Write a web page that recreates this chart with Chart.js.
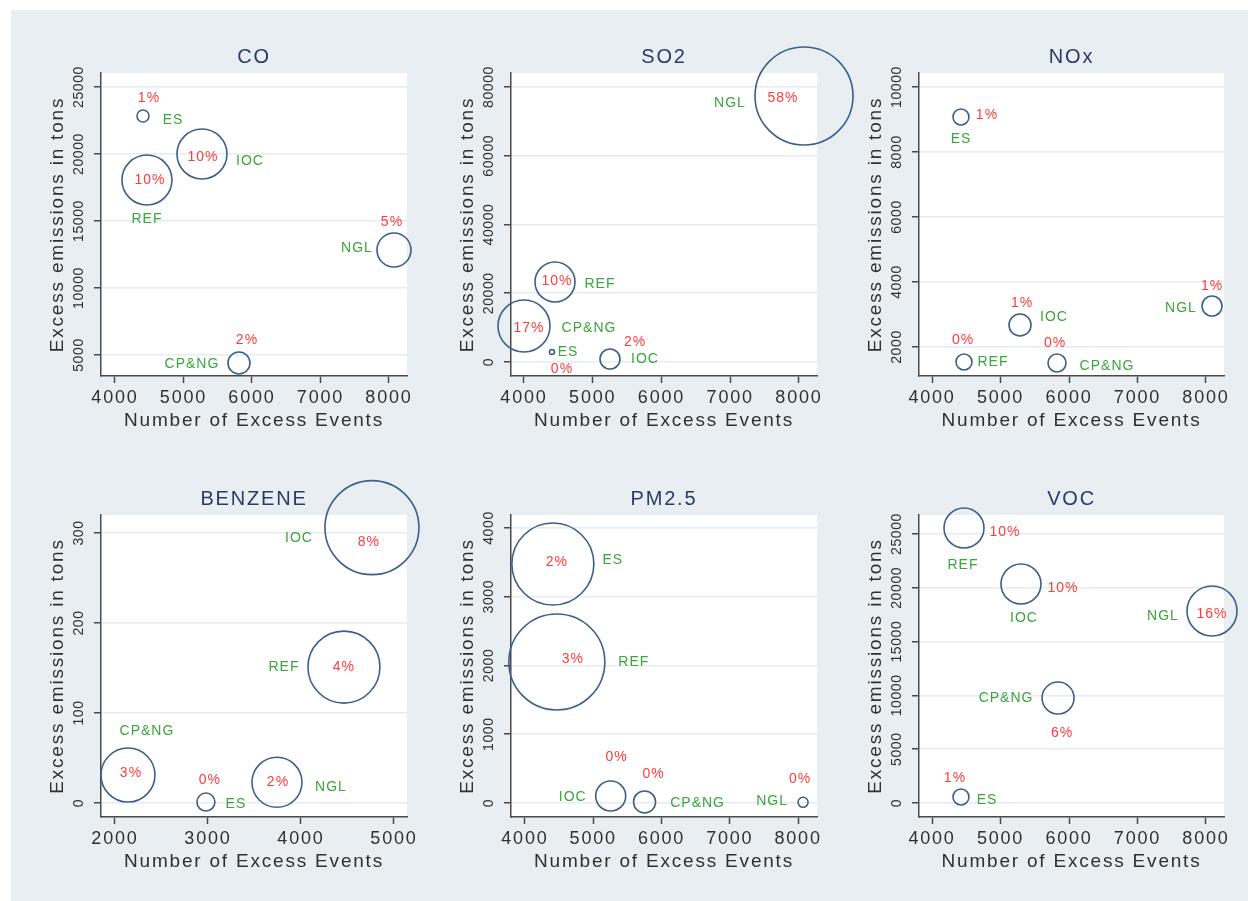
<!DOCTYPE html>
<html>
<head>
<meta charset="utf-8">
<script src="https://cdn.jsdelivr.net/npm/chart.js@4.4.1/dist/chart.umd.min.js"></script>
<style>
  body { margin: 0; background: #fff; }
  #page { position: relative; width: 1248px; height: 901px; overflow: hidden; background: #fff; }
  #bg { position: absolute; left: 11px; top: 10px; right: 0; bottom: 0; background: #e8eef1; }
  canvas { position: absolute; }
</style>
</head>
<body>
<div id="page"><div id="bg"></div></div>
<script>
// facilities, same order in every panel
const facilities = ["REF", "IOC", "CP&NG", "NGL", "ES"];

// number of excess events / excess emissions (tons) / share of total (%) / bubble weight
const coEvents = [4467, 5270, 5810, 8073, 4409];
const coTons = [18060, 20000, 4403, 12835, 22836];
const coShare = [10, 10, 2, 5, 1];
const coBubble = [25, 25, 11, 17, 6];

const so2Events = [4451, 5251, 4000, 8073, 4407];
const so2Tons = [23273, 875, 10473, 77382, 2909];
const so2Share = [10, 2, 17, 58, 0];
const so2Bubble = [20, 10, 26, 49, 2.5];

const noxEvents = [4467, 5285, 5825, 8088, 4423];
const noxTons = [1538, 2677, 1508, 3262, 9077];
const noxShare = [0, 1, 0, 1, 1];
const noxBubble = [8, 11, 9, 10, 8];

const benzeneEvents = [4462, 4763, 2140, 3742, 2978];
const benzeneTons = [151, 306, 31, 23, 1];
const benzeneShare = [4, 8, 3, 2, 0];
const benzeneBubble = [36, 47, 27, 25, 9];

const pmEvents = [4467, 5256, 5752, 8073, 4409];
const pmTons = [2051, 102, 15, 10, 3476];
const pmShare = [3, 0, 0, 0, 2];
const pmBubble = [48, 15, 11, 5, 41];

const vocEvents = [4467, 5299, 5840, 8088, 4423];
const vocTons = [25558, 20353, 9758, 17844, 558];
const vocShare = [10, 10, 6, 16, 1];
const vocBubble = [20, 20, 16, 25, 8];

// tick labels
const eventTicks = [4000, 5000, 6000, 7000, 8000];
const benzeneEventTicks = [2000, 3000, 4000, 5000];
const coTicks = [5000, 10000, 15000, 20000, 25000];
const so2Ticks = [0, 20000, 40000, 60000, 80000];
const noxTicks = [2000, 4000, 6000, 8000, 10000];
const benzeneTicks = [0, 100, 200, 300];
const pmTicks = [0, 1000, 2000, 3000, 4000];
const vocTicks = [0, 5000, 10000, 15000, 20000, 25000];

// label placement (pixel offsets from bubble centre), percent label then name label
const coPctPos = [[3, 0], [1, 3], [8, -23], [-2, -28], [6, -18]];
const coNamePos = [[0, 39], [48, 7], [-47, 1], [-37, -2], [30, 4]];
const so2PctPos = [[2, -1], [25, -17], [5, 2], [-21, 2], [10, 17]];
const so2NamePos = [[45, 2], [35, 0], [65, 2], [-74, 7], [16, 0]];
const noxPctPos = [[-1, -22], [2, -22], [-2, -20], [0, -20], [26, -2]];
const noxNamePos = [[29, 0], [34, -8], [50, 3], [-31, 2], [0, 22]];
const benzenePctPos = [[0, 0], [-3, 15], [3, -2], [1, 0], [4, -22]];
const benzeneNamePos = [[-60, 0], [-73, 11], [19, -44], [54, 5], [30, 2]];
const pmPctPos = [[16, -3], [6, -39], [9, -28], [-3, -23], [4, -2]];
const pmNamePos = [[77, 0], [-38, 1], [53, 1], [-31, -1], [60, -4]];
const vocPctPos = [[41, 4], [42, 4], [4, 35], [0, 3], [-6, -19]];
const vocNamePos = [[-1, 37], [3, 34], [-52, 0], [-49, 5], [26, 3]];

const FONT = "'Liberation Sans', Arial, Helvetica, sans-serif";
const NAVY = "#2c3a66";
const INK = "#303030";
const AXIS = "#4a4a4a";
const RED = "#ff3b3b";
const GREEN = "#3aa63a";
const CIRCLE = "#3e5f8c";

// plot-area rectangles on the page
const plotLeft = [101, 511, 919];
const plotRight = [407, 817, 1224];
const plotTop = [73, 515];
const plotBottom = [376, 817];
const AXIS_W = 90, TITLE_H = 60, XAXIS_H = 65, PAD_R = 42;

const panels = [
  { title: "CO", x: coEvents, y: coTons, share: coShare, size: coBubble, xTicks: eventTicks, yTicks: coTicks,
    xRange: [3796, 8263], yRange: [3433, 26045], pct: coPctPos, name: coNamePos, col: 0, row: 0 },
  { title: "SO2", x: so2Events, y: so2Tons, share: so2Share, size: so2Bubble, xTicks: eventTicks, yTicks: so2Ticks,
    xRange: [3811, 8262], yRange: [-4073, 84073], pct: so2PctPos, name: so2NamePos, col: 1, row: 0 },
  { title: "NOx", x: noxEvents, y: noxTons, share: noxShare, size: noxBubble, xTicks: eventTicks, yTicks: noxTicks,
    xRange: [3810, 8263], yRange: [1108, 10431], pct: noxPctPos, name: noxNamePos, col: 2, row: 0 },
  { title: "BENZENE", x: benzeneEvents, y: benzeneTons, share: benzeneShare, size: benzeneBubble, xTicks: benzeneEventTicks, yTicks: benzeneTicks,
    xRange: [1850, 5140], yRange: [-15.6, 320], pct: benzenePctPos, name: benzeneNamePos, col: 0, row: 1 },
  { title: "PM2.5", x: pmEvents, y: pmTons, share: pmShare, size: pmBubble, xTicks: eventTicks, yTicks: pmTicks,
    xRange: [3796, 8277], yRange: [-204, 4189], pct: pmPctPos, name: pmNamePos, col: 1, row: 1 },
  { title: "VOC", x: vocEvents, y: vocTons, share: vocShare, size: vocBubble, xTicks: eventTicks, yTicks: vocTicks,
    xRange: [3810, 8263], yRange: [-1301, 26766], pct: vocPctPos, name: vocNamePos, col: 2, row: 1 },
];

const panelPlugin = {
  id: "panelDecor",
  beforeDraw(chart) {
    const { ctx, chartArea: a } = chart;
    ctx.save();
    ctx.fillStyle = "#ffffff";
    ctx.fillRect(a.left, a.top, a.right - a.left, a.bottom - a.top);
    ctx.restore();
    ctx.letterSpacing = "1.8px";
  },
  afterDatasetsDraw(chart) {
    const p = chart.config.options.panel;
    const { ctx } = chart;
    const meta = chart.getDatasetMeta(0);
    ctx.save();
    ctx.letterSpacing = "1px";
    ctx.font = "14px " + FONT;
    ctx.textAlign = "center";
    ctx.textBaseline = "middle";
    meta.data.forEach((pt, i) => {
      ctx.fillStyle = RED;
      ctx.fillText(p.share[i] + "%", pt.x + p.pct[i][0], pt.y + p.pct[i][1]);
      ctx.fillStyle = GREEN;
      ctx.fillText(facilities[i], pt.x + p.name[i][0], pt.y + p.name[i][1]);
    });
    ctx.restore();
  },
  afterDraw(chart) {
    // rotated y tick labels, as in the original
    const { ctx, chartArea: a } = chart;
    const ys = chart.scales.y;
    ctx.save();
    ctx.letterSpacing = "0.6px";
    ctx.font = "14px " + FONT;
    ctx.fillStyle = INK;
    ctx.textAlign = "center";
    ctx.textBaseline = "middle";
    ys.ticks.forEach((t) => {
      ctx.save();
      ctx.translate(a.left - 22, ys.getPixelForValue(t.value));
      ctx.rotate(-Math.PI / 2);
      ctx.fillText(String(t.value), 0, 0);
      ctx.restore();
    });
    ctx.restore();
  },
};

const page = document.getElementById("page");

panels.forEach((p) => {
  const plotW = plotRight[p.col] - plotLeft[p.col];
  const plotH = plotBottom[p.row] - plotTop[p.row];
  const canvas = document.createElement("canvas");
  canvas.width = AXIS_W + plotW + PAD_R;
  canvas.height = TITLE_H + plotH + XAXIS_H;
  canvas.style.left = plotLeft[p.col] - AXIS_W + "px";
  canvas.style.top = plotTop[p.row] - TITLE_H + "px";
  canvas.style.width = canvas.width + "px";
  canvas.style.height = canvas.height + "px";
  page.appendChild(canvas);

  new Chart(canvas.getContext("2d"), {
    type: "bubble",
    data: {
      datasets: [
        {
          data: p.x.map((x, i) => ({ x: x, y: p.y[i], r: p.size[i] })),
          backgroundColor: "rgba(0,0,0,0)",
          borderColor: CIRCLE,
          borderWidth: 1.6,
          hoverRadius: 0,
          clip: false,
        },
      ],
    },
    options: {
      panel: p,
      responsive: false,
      animation: false,
      events: [],
      layout: { autoPadding: false, padding: { left: 0, top: 0, right: PAD_R, bottom: 0 } },
      plugins: {
        legend: { display: false },
        tooltip: { enabled: false },
        title: {
          display: true,
          text: p.title,
          fullSize: false,
          color: NAVY,
          font: { family: FONT, size: 20, weight: "normal", lineHeight: 1.2 },
          padding: { top: 32, bottom: 4 },
        },
      },
      scales: {
        x: {
          type: "linear",
          min: p.xRange[0],
          max: p.xRange[1],
          afterBuildTicks: (s) => { s.ticks = p.xTicks.map((v) => ({ value: v })); },
          afterFit: (s) => { s.height = XAXIS_H; },
          border: { color: AXIS, width: 1.5 },
          grid: { drawOnChartArea: false, drawTicks: true, tickLength: 7, tickColor: AXIS, tickWidth: 1.5 },
          ticks: {
            color: INK,
            font: { family: FONT, size: 18 },
            padding: 4,
            maxRotation: 0,
            autoSkip: false,
            callback: (v) => String(v),
          },
          title: {
            display: true,
            text: "Number of Excess Events",
            color: INK,
            font: { family: FONT, size: 19, lineHeight: 1.2 },
            padding: { top: 0, bottom: 9 },
          },
        },
        y: {
          type: "linear",
          min: p.yRange[0],
          max: p.yRange[1],
          afterBuildTicks: (s) => { s.ticks = p.yTicks.map((v) => ({ value: v })); },
          afterFit: (s) => { s.width = AXIS_W; },
          border: { color: AXIS, width: 1.5 },
          grid: { color: "#e6ecef", lineWidth: 1.5, drawTicks: true, tickLength: 7, tickColor: AXIS, tickWidth: 1.5 },
          ticks: { display: false },
          title: {
            display: true,
            text: "Excess emissions in tons",
            color: INK,
            font: { family: FONT, size: 19, lineHeight: 1.2 },
            padding: { top: 35, bottom: 0 },
          },
        },
      },
    },
    plugins: [panelPlugin],
  });
});
</script>
</body>
</html>
